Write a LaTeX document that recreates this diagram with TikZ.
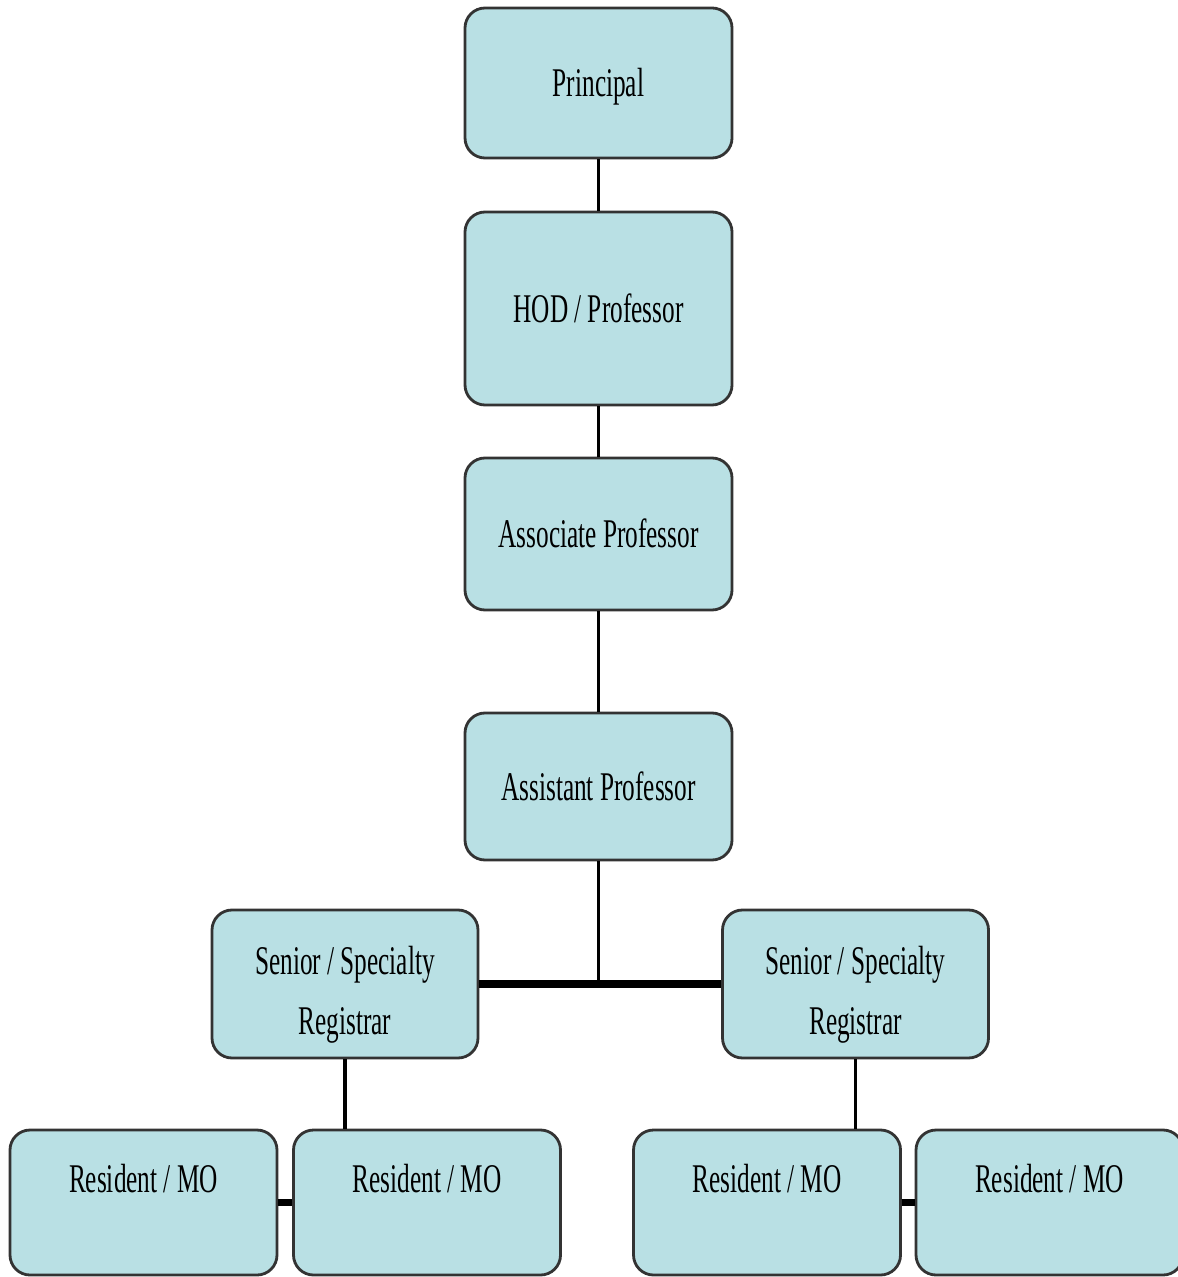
\documentclass[tikz,border=0pt]{standalone}
\usepackage{fontspec}
\setmainfont{Liberation Serif}[FakeStretch=0.62]

\tikzset{
    post/.style={draw=black!80,line width=0.8pt,fill=postfill,rounded corners=0.2cm,
        minimum width=2.67cm,font=\fontsize{11.6}{17}\selectfont,align=center},
    toppost/.style={post,text height=0.38cm,text depth=0.1cm},
    link/.style={line width=1.1pt},
    thicklink/.style={line width=2pt}
}

\begin{document}
\begin{tikzpicture}
        \definecolor{postfill}{RGB}{185,224,228}
        \useasboundingbox (0,0) rectangle (11.77,-12.77);

        % top of the chart
        \node[toppost,minimum height=1.50cm] (principal) at (5.985,-0.83) {Principal};
        \node[toppost,minimum height=1.93cm] (hod) at (5.985,-3.085) {HOD / Professor};
        \node[toppost,minimum height=1.52cm] (assoc) at (5.985,-5.34) {Associate Professor};
        \node[toppost,minimum height=1.47cm] (assist) at (5.985,-7.865) {Assistant Professor};

        % registrars
        \node[post,minimum height=1.48cm,minimum width=2.66cm] (regL) at (3.45,-9.84)
            {\rule{0pt}{0.5cm}Senior / Specialty\\Registrar};
        \node[post,minimum height=1.48cm,minimum width=2.66cm] (regR) at (8.555,-9.84)
            {\rule{0pt}{0.5cm}Senior / Specialty\\Registrar};

        % residents
        \foreach \name/\x in {resL1/1.435,resL2/4.27,resR1/7.67,resR2/10.495}
            \node[post,minimum height=1.45cm,text height=0.3cm,text depth=0.51cm]
                (\name) at (\x,-12.025) {Resident / MO};

        % connectors
        \draw[link] (principal) -- (hod);
        \draw[link] (hod) -- (assoc);
        \draw[link] (assoc) -- (assist);
        \draw[link] (assist.south) -- (assist.south |- regL.east);
        \draw[thicklink] (regL.east) -- (regR.west);

        \draw[link] (regL.south) -- (regL.south |- resL2.north);
        \draw[link] (regR.south) -- (regR.south |- resR1.north);

        \draw[thicklink] (resL1.east) -- (resL2.west);
        \draw[thicklink] (resR1.east) -- (resR2.west);
    \end{tikzpicture}
\end{document}
